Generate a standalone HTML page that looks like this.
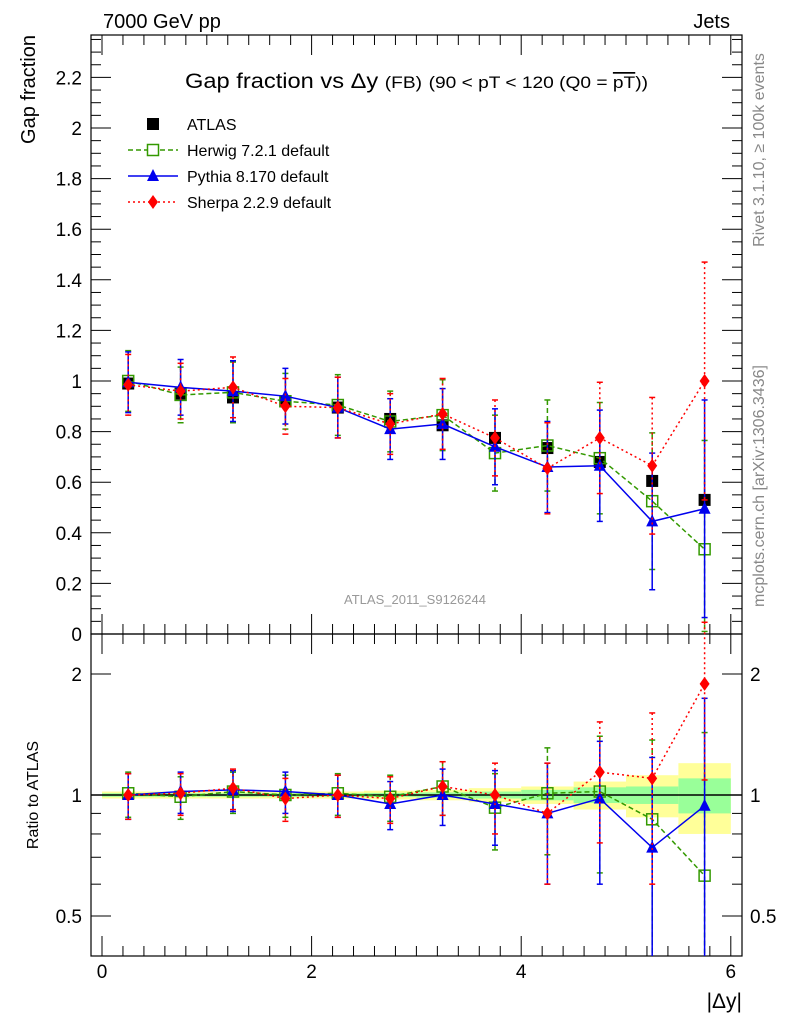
<!DOCTYPE html>
<html><head><meta charset="utf-8"><style>
body{margin:0;background:#fff;}
svg{display:block;font-family:"Liberation Sans",sans-serif;}
</style></head><body>
<svg id="c" width="786" height="1024" viewBox="0 0 786 1024"></svg>
<script>
const xCenters=[0.25,0.75,1.25,1.75,2.25,2.75,3.25,3.75,4.25,4.75,5.25,5.75];
const atlasVals=[0.99,0.95,0.935,0.92,0.895,0.85,0.825,0.775,0.735,0.68,0.605,0.53];
const herwigVals=[1.0,0.945,0.955,0.92,0.905,0.84,0.865,0.715,0.745,0.695,0.525,0.335];
const pythiaVals=[0.995,0.975,0.96,0.94,0.895,0.81,0.83,0.74,0.66,0.665,0.445,0.495];
const sherpaVals=[0.985,0.96,0.975,0.9,0.895,0.83,0.87,0.775,0.655,0.775,0.665,1.0];
const mcErrs=[0.12,0.11,0.12,0.11,0.12,0.12,0.14,0.15,0.18,0.22,0.27,0.43];
const herwigRatio=[1.01,0.99,1.02,1.0,1.01,0.99,1.05,0.93,1.01,1.02,0.87,0.63];
const pythiaRatio=[1.0,1.02,1.03,1.02,1.0,0.95,1.0,0.95,0.9,0.98,0.74,0.94];
const sherpaRatio=[1.0,1.01,1.04,0.98,1.0,0.98,1.05,1.0,0.9,1.14,1.10,1.89];
const ratioErrs=[0.13,0.12,0.12,0.12,0.12,0.13,0.16,0.2,0.3,0.38,0.5,0.8];
const bandYellow=[0.02,0.02,0.02,0.02,0.02,0.025,0.03,0.04,0.05,0.08,0.12,0.2];
const bandGreen=[0.01,0.01,0.01,0.01,0.01,0.012,0.015,0.02,0.03,0.045,0.05,0.1];
const yTicks=[0,0.2,0.4,0.6,0.8,1,1.2,1.4,1.6,1.8,2,2.2];
const yTickLabels=["0","0.2","0.4","0.6","0.8","1","1.2","1.4","1.6","1.8","2","2.2"];
const xTicks=[0,2,4,6];

const NS="http://www.w3.org/2000/svg";
const svg=document.getElementById('c');
const L=91,R=742,T=35,MB=634,RB=956;
const X=v=>102+v*104.8;
const Y=v=>634-v*253;
const YR=v=>795-Math.log2(v)*121;
function el(tag,attrs,parent){const e=document.createElementNS(NS,tag);for(const k in attrs)e.setAttribute(k,attrs[k]);(parent||svg).appendChild(e);return e;}
function txt(s,attrs){const t=el('text',attrs);t.textContent=s;return t;}

const gBand=el('g',{});


xCenters.forEach((c,i)=>{
  const r1=el('rect',{x:X(c-0.25),width:X(c+0.25)-X(c-0.25),y:YR(1+bandYellow[i]),height:YR(1-bandYellow[i])-YR(1+bandYellow[i]),fill:'#ffff99'},gBand);
  
  
  const r2=el('rect',{x:X(c-0.25),width:X(c+0.25)-X(c-0.25),y:YR(1+bandGreen[i]),height:YR(1-bandGreen[i])-YR(1+bandGreen[i]),fill:'#99ff99'},gBand);
  
  
});
el('line',{x1:L,x2:R,y1:YR(1),y2:YR(1),stroke:'#000','stroke-width':1.5});

const f1=el('rect',{x:L,y:T,width:R-L,height:MB-T,fill:'none',stroke:'#000','stroke-width':1.2});

const f2=el('rect',{x:L,y:MB,width:R-L,height:RB-MB,fill:'none',stroke:'#000','stroke-width':1.2});


for(let v=0;v<=2.36;v+=0.05){const y=Y(v);if(y<T)break;const maj=Math.abs(v*5-Math.round(v*5))<1e-6;const len=maj?20:10;
 el('line',{x1:L,x2:L+len,y1:y,y2:y,stroke:'#000'});el('line',{x1:R,x2:R-len,y1:y,y2:y,stroke:'#000'});}
yTicks.forEach((v,i)=>{const t=txt(yTickLabels[i],{x:82,y:Y(v)+7,'font-size':19,'text-anchor':'end'});});
[0.5,0.6,0.7,0.8,0.9,1,2].forEach(v=>{const y=YR(v);const maj=(v==0.5||v==1||v==2);const len=maj?20:10;
 el('line',{x1:L,x2:L+len,y1:y,y2:y,stroke:'#000'});el('line',{x1:R,x2:R-len,y1:y,y2:y,stroke:'#000'});});
[[2,"2"],[1,"1"],[0.5,"0.5"]].forEach(p=>{
 const a=txt(p[1],{x:82,y:YR(p[0])+7,'font-size':19,'text-anchor':'end'});
 const b=txt(p[1],{x:750,y:YR(p[0])+7,'font-size':19});});
for(let v=0;v<=6.2;v+=0.2){const x=X(v);if(x>R)break;const maj=Math.abs(v/2-Math.round(v/2))<1e-6;const len=maj?20:10;
 [[MB,-1],[T,1],[RB,-1],[MB,1]].forEach(q=>el('line',{x1:x,x2:x,y1:q[0],y2:q[0]+q[1]*len,stroke:'#000'}));}
xTicks.forEach(v=>{const t=txt(String(v),{x:X(v),y:978,'font-size':19,'text-anchor':'middle'});});

function drawSeries(name,vals,errs,yf,color,dash,marker,withErr){
 const g=el('g',{});
 const bottom=(yf===Y?MB:RB);
 if(withErr)xCenters.forEach((c,i)=>{const x=X(c);const lo=Math.max(vals[i]-errs[i],0.01);
  const y1=yf(vals[i]+errs[i]),y2=yf(lo);
  el('line',{x1:x,x2:x,y1:Math.max(y1,T),y2:Math.min(y2,bottom),stroke:color,'stroke-width':1.5,'stroke-dasharray':dash||''},g);
  if(y1>T)el('line',{x1:x-3,x2:x+3,y1:y1,y2:y1,stroke:color,'stroke-width':1.5},g);
  if(y2<bottom)el('line',{x1:x-3,x2:x+3,y1:y2,y2:y2,stroke:color,'stroke-width':1.5},g);});
 if(marker!=='sq-black'){
  const pts=xCenters.map((c,i)=>X(c)+','+Math.max(yf(vals[i]),T)).join(' ');
  el('polyline',{points:pts,fill:'none',stroke:color,'stroke-width':1.5,'stroke-dasharray':dash||''},g);}
 xCenters.forEach((c,i)=>{const x=X(c),y=yf(vals[i]);if(y<T)return;
  if(marker==='sq-black')el('rect',{x:x-6,y:y-6,width:12,height:12,fill:'#000'},g);
  else if(marker==='sq-open')el('rect',{x:x-5.5,y:y-5.5,width:11,height:11,fill:'none',stroke:color,'stroke-width':1.5},g);
  else if(marker==='tri')el('polygon',{points:`${x},${y-7} ${x-6},${y+5} ${x+6},${y+5}`,fill:color},g);
  else el('polygon',{points:`${x},${y-7} ${x-5},${y} ${x},${y+7} ${x+5},${y}`,fill:color},g);});
}
const atlasErrs=atlasVals.map(()=>0.015);
drawSeries('atlas-data',atlasVals,atlasErrs,Y,'#000','', 'sq-black',false);
drawSeries('herwig-series',herwigVals,mcErrs,Y,'#339900','5,3','sq-open',true);
drawSeries('pythia-series',pythiaVals,mcErrs,Y,'#0000ee','','tri',true);
drawSeries('sherpa-series',sherpaVals,mcErrs.map((e,i)=>i==11?0.47:e),Y,'#ff0000','2,3','dia',true);
drawSeries('herwig-ratio',herwigRatio,ratioErrs,YR,'#339900','5,3','sq-open',true);
drawSeries('pythia-ratio',pythiaRatio,ratioErrs,YR,'#0000ee','','tri',true);
drawSeries('sherpa-ratio',sherpaRatio,ratioErrs,YR,'#ff0000','2,3','dia',true);
</script>
<svg width="786" height="1024" style="position:absolute;left:0;top:0;font-family:'Liberation Sans',sans-serif;">
<text x="103" y="28" font-size="20">7000 GeV pp</text>
<text x="730" y="28" font-size="20" text-anchor="end">Jets</text>
<text transform="translate(35,35) rotate(-90)" font-size="20" text-anchor="end">Gap fraction</text>
<text transform="translate(38,795) rotate(-90)" font-size="16" text-anchor="middle">Ratio to ATLAS</text>
<text x="742" y="1008" font-size="21" text-anchor="end">|Δy|</text>
<text x="185" y="88" font-size="21" textLength="463" lengthAdjust="spacingAndGlyphs">Gap fraction vs Δy <tspan font-size="17">(FB)</tspan> <tspan font-size="17">(90 &lt; pT &lt; 120 (Q0 = </tspan><tspan font-size="17" text-decoration="overline">pT</tspan><tspan font-size="17">))</tspan></text>
<g>
<rect x="147" y="118" width="12" height="12" fill="#000"/>
<text x="187" y="130" font-size="16">ATLAS</text>
<line x1="128" x2="178" y1="150" y2="150" stroke="#339900" stroke-width="1.5" stroke-dasharray="5,3"/>
<rect x="147.5" y="144.5" width="11" height="11" fill="#fff" stroke="#339900" stroke-width="1.5"/>
<text x="187" y="156" font-size="16">Herwig 7.2.1 default</text>
<line x1="128" x2="178" y1="176" y2="176" stroke="#0000ee" stroke-width="1.5"/>
<polygon points="153,169 147,181 159,181" fill="#0000ee"/>
<text x="187" y="182" font-size="16">Pythia 8.170 default</text>
<line x1="128" x2="178" y1="202" y2="202" stroke="#ff0000" stroke-width="1.5" stroke-dasharray="2,3"/>
<polygon points="153,195 148,202 153,209 158,202" fill="#ff0000"/>
<text x="187" y="208" font-size="16">Sherpa 2.2.9 default</text>
</g>
<text x="415" y="604" font-size="13" fill="#999" text-anchor="middle">ATLAS_2011_S9126244</text>
<text transform="translate(764,150) rotate(-90)" font-size="16" fill="#888" text-anchor="middle">Rivet 3.1.10, ≥ 100k events</text>
<text transform="translate(764,486) rotate(-90)" font-size="16" fill="#888" text-anchor="middle">mcplots.cern.ch [arXiv:1306.3436]</text>
</svg>
</body></html>
